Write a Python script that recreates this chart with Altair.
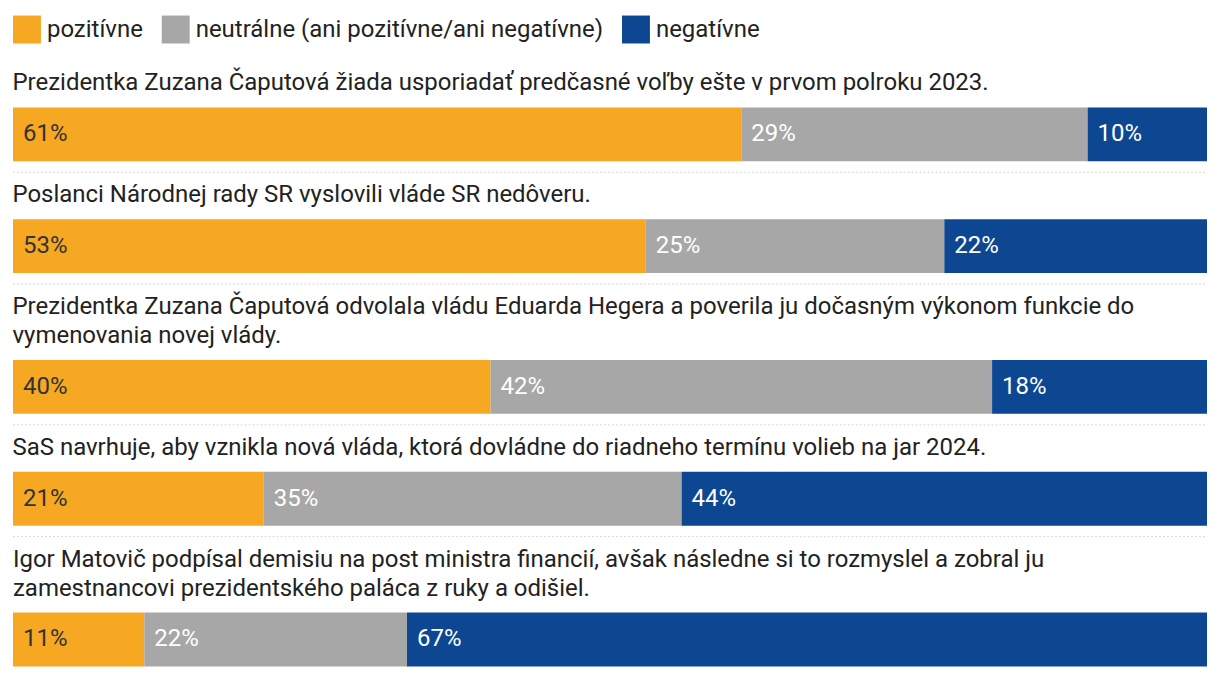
import altair as alt
import pandas as pd

questions = [
    ["Prezidentka Zuzana Čaputová žiada usporiadať predčasné voľby ešte v prvom polroku 2023."],
    ["Poslanci Národnej rady SR vyslovili vláde SR nedôveru."],
    ["Prezidentka Zuzana Čaputová odvolala vládu Eduarda Hegera a poverila ju dočasným výkonom funkcie do",
     "vymenovania novej vlády."],
    ["SaS navrhuje, aby vznikla nová vláda, ktorá dovládne do riadneho termínu volieb na jar 2024."],
    ["Igor Matovič podpísal demisiu na post ministra financií, avšak následne si to rozmyslel a zobral ju",
     "zamestnancovi prezidentského paláca z ruky a odišiel."],
]
categories = ["pozitívne", "neutrálne (ani pozitívne/ani negatívne)", "negatívne"]
colors = ["#F6A823", "#A8A7A8", "#0D4792"]
positive = [61, 53, 40, 21, 11]
neutral = [29, 25, 42, 35, 22]
negative = [10, 22, 18, 44, 67]

FONT = "Roboto"
FS = 24
BAR_H = 54
charts = []
for i, q in enumerate(questions):
    vals = [positive[i], neutral[i], negative[i]]
    rows = []
    start = 0
    for c, v in zip(categories, vals):
        rows.append({"q": str(i), "cat": c, "start": start, "end": start + v, "label": f"{v}%"})
        start += v
    df = pd.DataFrame(rows)
    base = alt.Chart(df)
    xscale = alt.Scale(domain=[0, 100], nice=False, zero=True)
    xs = alt.X("start:Q", scale=xscale, axis=None)
    ys = alt.Y("q:N", scale=alt.Scale(paddingInner=0, paddingOuter=0), axis=None)
    bars = base.mark_bar(cornerRadius=0).encode(
        x=xs,
        x2="end:Q",
        y=ys,
        color=alt.Color(
            "cat:N",
            scale=alt.Scale(domain=categories, range=colors),
            sort=categories,
            legend=alt.Legend(
                title=None,
                orient="top",
                direction="horizontal",
                symbolType="square",
                symbolSize=784,
                symbolStrokeWidth=0,
                symbolOpacity=1,
                labelFontSize=FS,
                labelFont=FONT,
                labelColor="#222222",
                labelOffset=6,
                columnPadding=18,
                offset=28,
                labelLimit=700,
            ),
        ),
    )
    texts = base.mark_text(align="left", baseline="middle", dx=10, font=FONT, fontSize=FS).encode(
        x=xs,
        y=ys,
        text="label:N",
        color=alt.condition(alt.datum.cat == "pozitívne", alt.value("#333333"), alt.value("#ffffff")),
    )
    layers = [bars, texts]
    if i < len(questions) - 1:
        sep = alt.Chart(pd.DataFrame({"a": [0], "b": [100]})).mark_rule(
            strokeDash=[2, 2], color="#d6d6d6", strokeWidth=1
        ).encode(
            x=alt.X("a:Q", scale=xscale, axis=None),
            x2="b:Q",
            y=alt.value(BAR_H + 11),
        )
        layers.append(sep)
    layer = alt.layer(*layers).properties(
        width=1196,
        height=BAR_H,
        title=alt.TitleParams(
            text=q,
            anchor="start",
            font=FONT,
            fontSize=FS,
            fontWeight="normal",
            color="#222222",
            lineHeight=29,
            offset=12,
        ),
    )
    charts.append(layer)

chart = (
    alt.vconcat(*charts, spacing=10)
    .resolve_scale(color="shared")
    .properties(padding={"left": 4, "top": 7, "right": 4, "bottom": 2})
    .configure_view(stroke=None)
    .configure_legend(orient="top", direction="horizontal")
)

chart.save("out.html", embed_options={"renderer": "svg", "actions": False})
